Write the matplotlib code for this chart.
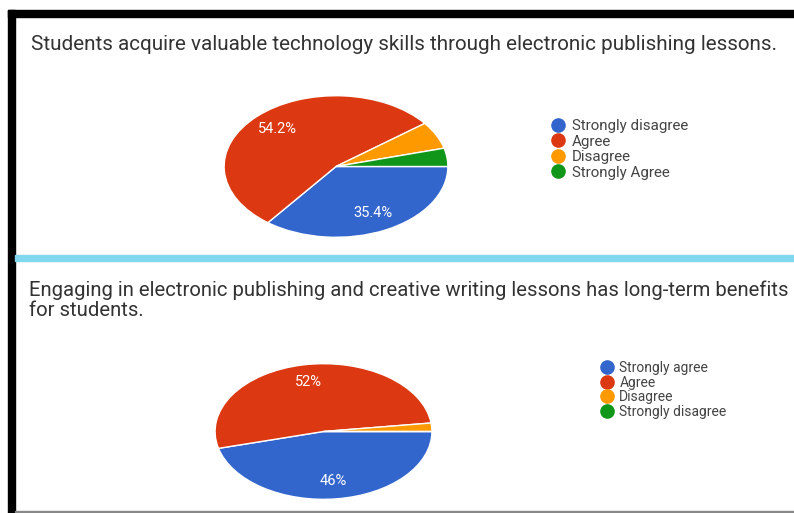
import matplotlib.pyplot as plt
from matplotlib.lines import Line2D
from matplotlib.patches import Rectangle

W, H = 794, 513

# Google Forms palette
colors = ["#3366cc", "#dc3912", "#ff9900", "#109618"]

q1_title = "Students acquire valuable technology skills through electronic publishing lessons."
q1_labels = ["Strongly disagree", "Agree", "Disagree", "Strongly Agree"]
q1_counts = [17, 26, 3, 2]

q2_title = ("Engaging in electronic publishing and creative writing lessons has long-term benefits\n"
            "for students.")
q2_labels = ["Strongly agree", "Agree", "Disagree", "Strongly disagree"]
q2_counts = [23, 26, 1, 0]

plt.rcParams["font.family"] = ["Roboto", "DejaVu Sans"]

fig = plt.figure(figsize=(W / 100, H / 100), dpi=100)
fig.patch.set_facecolor("white")


def px_axes(x0, y0, x1, y1):
    # axes from pixel box (top-left origin)
    return fig.add_axes([x0 / W, 1 - y1 / H, (x1 - x0) / W, (y1 - y0) / H])


def pct(p):
    if p < 10:
        return ""
    return f"{p:.1f}".rstrip("0").rstrip(".") + "%"


def draw_pie(ax, counts):
    ax.pie(
        counts,
        colors=colors,
        startangle=0,
        counterclock=False,
        autopct=pct,
        pctdistance=0.74,
        wedgeprops=dict(edgecolor="white", linewidth=1),
        textprops=dict(color="white", fontsize=10.5),
    )
    ax.set_aspect("auto")
    ax.set_xlim(-1.01, 1.01)
    ax.set_ylim(-1.01, 1.01)
    ax.axis("off")


def draw_legend(labels, x, y, fontsize, spacing):
    handles = [
        Line2D([], [], marker="o", linestyle="", markersize=9.5,
               markerfacecolor=c, markeredgecolor=c)
        for c in colors
    ]
    fig.legend(
        handles, labels,
        loc="upper left",
        bbox_to_anchor=(x / W, 1 - y / H),
        frameon=False,
        fontsize=fontsize,
        labelcolor="#444444",
        handlelength=0.7,
        handletextpad=0.55,
        labelspacing=spacing,
        borderpad=0,
        borderaxespad=0,
    )


ax1 = px_axes(223, 95, 449, 238)
draw_pie(ax1, q1_counts)
draw_legend(q1_labels, 553, 119, 10.9, 0.1)

ax2 = px_axes(214, 363, 433, 500)
draw_pie(ax2, q2_counts)
draw_legend(q2_labels, 602, 361, 10, 0.04)

fig.text(31 / W, 1 - 44 / H, q1_title, va="center", fontsize=14.9, color="#333333")
fig.text(29 / W, 1 - 300 / H, q2_title, va="center", fontsize=14.6, color="#333333",
         linespacing=1.05)

# frame around the screenshot
fig.add_artist(Rectangle((8 / W, 0), 7 / W, 1 - 10 / H, transform=fig.transFigure,
                         color="black"))
fig.add_artist(Rectangle((8 / W, 1 - 17 / H), 1, 7 / H, transform=fig.transFigure,
                         color="black"))
fig.add_artist(Rectangle((15 / W, 1 - 261 / H), 1, 6 / H, transform=fig.transFigure,
                         color="#80d8ee"))
fig.add_artist(Rectangle((15 / W, 1 - 512 / H), 1, 1.5 / H, transform=fig.transFigure,
                         color="#888888"))

fig.savefig("out.png", dpi=100)
